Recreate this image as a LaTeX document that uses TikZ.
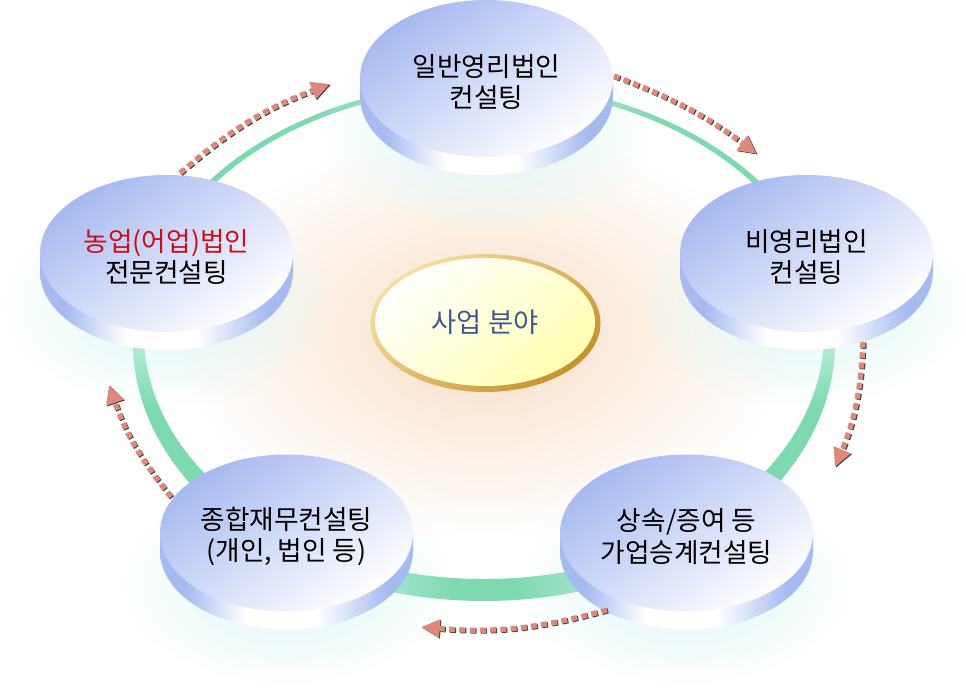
\documentclass[tikz,border=0pt]{standalone}
\usepackage{fontspec}
\setmainfont{Noto Sans CJK KR}
\usetikzlibrary{shapes.geometric}
\usetikzlibrary{arrows.meta}
\usetikzlibrary{fadings}

\definecolor{ringgreen}{RGB}{126,217,176}
\definecolor{diskblue}{RGB}{166,184,240}
\definecolor{sideblue}{RGB}{166,186,240}
\definecolor{haloblue}{RGB}{218,246,245}
\definecolor{glowsand}{RGB}{246,221,196}
\definecolor{arrowpink}{RGB}{222,136,124}
\definecolor{rimlight}{RGB}{246,222,160}
\definecolor{rimdark}{RGB}{198,146,48}
\definecolor{hubyellow}{RGB}{255,255,178}
\definecolor{hubtext}{RGB}{66,88,140}
\definecolor{labelred}{RGB}{200,16,24}

\pgfdeclarehorizontalshading{disksidefill}{100bp}{color(0bp)=(sideblue); color(30bp)=(sideblue); color(42bp)=(white); color(56bp)=(white); color(70bp)=(sideblue); color(100bp)=(sideblue)}
\tikzfading[name=halofade, inner color=transparent!0, outer color=transparent!100]

\tikzset{
  disktop/.style={ellipse, minimum width=189.75pt, minimum height=117.75pt, inner sep=0pt, align=center,
    top color=diskblue, bottom color=white, shading angle=35, font=\fontsize{20}{23.5}\selectfont},
  diskside/.style={shading=disksidefill},
  halo/.style={fill=haloblue, path fading=halofade},
  flowarrow/.style={arrowpink, line width=4pt, dash pattern=on 4.5pt off 3.2pt, -{Triangle[length=14pt,width=13pt,color=arrowpink]},
    preaction={draw=black!75, line width=4pt, dash pattern=on 4.5pt off 3.2pt, -{Triangle[length=14pt,width=13pt,color=black!75]}, transform canvas={shift={(0.8pt,-0.6pt)}}}}
}

\begin{document}
\begin{tikzpicture}[x=0.75pt, y=-0.75pt]
  \useasboundingbox (0,0) rectangle (966,695);

  % glow behind everything
  \shade[inner color=glowsand, outer color=white] (484,335) ellipse (310 and 205);

  % ring, thicker at the bottom
  \fill[ringgreen, even odd rule] (484,342) ellipse (351 and 259) (484,333.5) ellipse (340 and 245.5);

  \foreach \x/\y in {486.5/78.5, 806.5/253.5, 686.5/533, 286.5/533, 166.5/253.5}
    \fill[halo] (\x,\y+50) ellipse (170 and 105);

  \foreach \nm/\x/\y/\txt in {
    topdisk/486.5/78.5/{일반영리법인\\컨설팅},
    rightdisk/806.5/253.5/{비영리법인\\컨설팅},
    lowrightdisk/686.5/533/{상속/증여 등\\가업승계컨설팅},
    lowleftdisk/286.5/533/{종합재무컨설팅\\(개인, 법인 등)},
    leftdisk/166.5/253.5/{\textcolor{labelred}{농업(어업)법인}\\전문컨설팅}}
  {
    \shade[diskside] (\x-126.5,\y) -- (\x-126.5,\y+18) arc[start angle=180, end angle=0, x radius=126.5, y radius=78.5] -- (\x+126.5,\y) -- cycle;
    \node [disktop] (\nm) at (\x,\y) {\rule{0pt}{22pt}\txt};
  }

  % hub in the middle
  \node [ellipse, minimum width=172.5pt, minimum height=103.5pt, inner sep=0pt, top color=rimlight, bottom color=rimdark, shading angle=40] (hubrim) at (485.5,323) {};
  \node [ellipse, minimum width=165pt, minimum height=96pt, inner sep=0pt, top color=white, bottom color=hubyellow, shading angle=40, text=hubtext, font=\fontsize{20.5}{24}\selectfont] (hub) at (485,322) {사업 분야};

  \coordinate (topout) at (614,76);
  \coordinate (rightin) at (757,154);
  \coordinate (rightout) at (863,342);
  \coordinate (lowrightin) at (835,467);
  \coordinate (lowrightout) at (607,610);
  \coordinate (lowleftin) at (421,627);
  \coordinate (lowleftout) at (171,497);
  \coordinate (leftin) at (109,385);
  \coordinate (leftout) at (180,173);
  \coordinate (topin) at (330,84);

  \draw [flowarrow] (topout) to[bend left=8] (rightin);
  \draw [flowarrow] (rightout) to[bend left=10] (lowrightin);
  \draw [flowarrow] (lowrightout) to[bend left=10] (lowleftin);
  \draw [flowarrow] (lowleftout) to[bend left=10] (leftin);
  \draw [flowarrow] (leftout) to[bend left=10] (topin);
\end{tikzpicture}
\end{document}
